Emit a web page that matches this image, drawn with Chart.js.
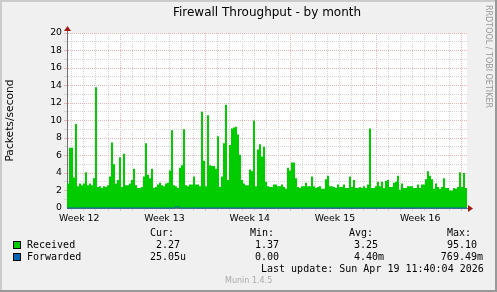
<!DOCTYPE html>
<html>
<head>
<meta charset="utf-8">
<title>Firewall Throughput - by month</title>
<script src="https://cdn.jsdelivr.net/npm/chart.js"></script>
<style>
    body {
        margin: 0;
        background: #f0f0f0;
    }

    #graph {
        position: relative;
        width: 497px;
        height: 292px;
        overflow: hidden;
    }

    #graph canvas {
        position: absolute;
        left: 0;
        top: 0;
    }

    .txt {
        position: absolute;
        white-space: pre;
        font-family: 'DejaVu Sans Mono', monospace;
        color: #000;
    }

    .swatch {
        position: absolute;
        left: 13px;
        width: 8px;
        height: 8px;
        box-sizing: border-box;
        border: 1px solid #000;
    }
</style>
</head>
<body>
<div id="graph">
    <canvas id="throughput" width="497" height="292"></canvas>
</div>

<script>
    // packets/second received, one value per ~4 hours, oldest first
    const received = [
        2.8, 6.9, 6.9, 3.5, 9.6, 2.5, 2.8, 2.6, 2.8, 4.1, 2.6, 2.8, 2.6, 3.4, 13.8, 2.4, 2.5, 2.3, 2.5, 2.4,
        2.6, 3.6, 7.5, 5.0, 2.8, 3.2, 5.8, 2.4, 6.2, 2.6, 2.6, 2.8, 3.2, 4.5, 2.6, 2.3, 2.3, 2.4, 3.6, 7.4,
        3.8, 3.4, 4.5, 2.3, 2.4, 2.7, 2.9, 2.6, 2.5, 2.8, 2.9, 4.3, 8.9, 2.6, 2.5, 2.3, 4.6, 4.9, 9.0, 2.6,
        2.5, 2.7, 2.7, 3.6, 2.7, 2.7, 2.5, 11.0, 5.4, 2.5, 10.6, 4.9, 4.8, 4.8, 4.5, 8.2, 2.4, 3.6, 7.4, 11.8,
        3.2, 7.2, 9.1, 9.2, 9.3, 8.4, 6.1, 3.2, 2.8, 2.6, 2.6, 4.4, 4.2, 10.0, 2.5, 6.7, 7.3, 5.9, 7.0, 3.0,
        2.5, 2.4, 2.4, 2.7, 2.7, 2.5, 2.5, 2.7, 2.4, 2.2, 4.6, 4.3, 5.2, 5.2, 3.4, 2.4, 2.3, 2.5, 2.5, 2.9,
        2.5, 2.5, 3.6, 2.5, 2.3, 2.4, 2.5, 2.2, 2.2, 3.3, 3.7, 2.5, 2.5, 2.4, 2.3, 2.7, 2.4, 2.4, 2.7, 2.3,
        2.3, 3.6, 2.4, 3.2, 2.3, 2.3, 2.4, 2.3, 2.5, 2.3, 2.7, 9.1, 2.3, 2.3, 2.5, 3.0, 2.5, 3.0, 2.3, 3.1,
        3.2, 2.4, 2.4, 2.9, 3.0, 3.7, 2.1, 2.8, 2.3, 2.3, 2.5, 2.5, 2.5, 2.3, 2.3, 2.7, 2.3, 2.7, 2.7, 3.3,
        4.2, 3.7, 3.3, 2.2, 2.8, 2.4, 2.2, 2.4, 3.4, 2.3, 2.3, 2.0, 2.0, 2.3, 2.2, 2.4, 4.1, 2.4, 4.0, 2.3
    ];

    // packets/second forwarded, same sampling
    const forwarded = [
        0, 0, 0, 0, 0, 0, 0, 0, 0, 0, 0, 0, 0, 0, 0, 0, 0, 0, 0, 0,
        0, 0, 0, 0, 0, 0, 0, 0, 0, 0, 0, 0, 0, 0, 0, 0, 0, 0, 0, 0,
        0, 0, 0, 0, 0, 0, 0, 0, 0, 0, 0, 0, 0, 0, 0.12, 0.12, 0, 0, 0, 0,
        0, 0, 0, 0, 0, 0, 0, 0, 0, 0, 0, 0, 0, 0, 0, 0, 0, 0, 0, 0,
        0, 0, 0, 0, 0, 0, 0, 0, 0, 0, 0, 0, 0, 0, 0, 0, 0, 0, 0, 0,
        0, 0, 0, 0, 0, 0, 0, 0, 0, 0, 0, 0, 0, 0, 0, 0, 0, 0, 0, 0,
        0, 0, 0, 0, 0, 0, 0, 0, 0, 0, 0, 0, 0, 0, 0, 0, 0, 0, 0, 0,
        0, 0, 0, 0, 0, 0, 0, 0, 0, 0, 0, 0, 0, 0, 0, 0, 0, 0, 0, 0,
        0, 0, 0, 0, 0, 0, 0, 0, 0, 0, 0, 0, 0, 0, 0, 0, 0, 0, 0, 0,
        0, 0, 0, 0, 0, 0, 0, 0, 0, 0, 0, 0, 0, 0, 0, 0, 0, 0, 0, 0
    ];

    const seriesNames = ['Received', 'Forwarded'];
    const statHeaders = ['Cur:', 'Min:', 'Avg:', 'Max:'];
    const receivedStats = ['2.27', '1.37', '3.25', '95.10'];
    const forwardedStats = ['25.05u', '0.00', '4.40m', '769.49m'];

    const weekLabels = ['Week 12', 'Week 13', 'Week 14', 'Week 15', 'Week 16'];
    const weekLabelDays = [1, 8, 15, 22, 29];   // days from graph start
    const spanDays = 32.85;
    const firstMidnight = 0.38;
    const weekStartOffset = 4;                   // first midnight that starts a week

    const lastUpdate = 'Last update: Sun Apr 19 11:40:04 2026';
    const version = 'Munin 1.4.5';
    const watermark = 'RRDTOOL / TOBI OETIKER';

    const GREEN = '#00cc00';
    const BLUE = '#0066b3';
    const MAJOR = '#edb4b4';
    const MINOR = '#d6d6d6';
    const AXIS = '#707070';

    Chart.defaults.font.family = "'DejaVu Sans', sans-serif";
    Chart.defaults.color = '#000';

    // stepped area: each value holds until the next one
    const step = spanDays / received.length;
    function toPoints(values) {
        const pts = values.map((v, i) => ({x: i * step, y: v}));
        pts.push({x: values.length * step, y: values[values.length - 1]});
        return pts;
    }

    const frame = {
        id: 'frame',
        beforeDraw(chart) {
            const {ctx, width, height, chartArea: a} = chart;
            ctx.save();
            ctx.fillStyle = '#f0f0f0';
            ctx.fillRect(0, 0, width, height);
            ctx.fillStyle = '#ffffff';
            ctx.fillRect(a.left, a.top, a.right - a.left, a.bottom - a.top);
            ctx.fillStyle = '#cbcbcb';
            ctx.fillRect(0, 0, width, 2);
            ctx.fillRect(0, 0, 2, height);
            ctx.fillStyle = '#999999';
            ctx.fillRect(0, height - 2, width, 2);
            ctx.fillRect(width - 2, 0, 2, height);
            ctx.restore();
        },
        afterDraw(chart) {
            const {ctx, chartArea: a} = chart;
            const ax = Math.round(a.left) + 0.5;
            const ay = Math.round(a.bottom) + 0.5;
            ctx.save();
            ctx.strokeStyle = AXIS;
            ctx.lineWidth = 1;
            ctx.beginPath();
            ctx.moveTo(ax, a.top);
            ctx.lineTo(ax, a.top - 4);
            ctx.moveTo(a.right, ay);
            ctx.lineTo(a.right + 4, ay);
            ctx.stroke();
            ctx.fillStyle = '#a01818';
            ctx.beginPath();
            ctx.moveTo(ax - 3.5, a.top - 2);
            ctx.lineTo(ax + 3.5, a.top - 2);
            ctx.lineTo(ax, a.top - 7);
            ctx.closePath();
            ctx.fill();
            ctx.beginPath();
            ctx.moveTo(a.right + 1, ay - 3.5);
            ctx.lineTo(a.right + 1, ay + 3.5);
            ctx.lineTo(a.right + 6, ay);
            ctx.closePath();
            ctx.fill();
            ctx.restore();
        }
    };

    new Chart(document.getElementById('throughput'), {
        type: 'line',
        data: {
            datasets: [{
                label: seriesNames[0],
                data: toPoints(received),
                stepped: true,
                fill: 'origin',
                backgroundColor: GREEN,
                borderWidth: 0,
                pointRadius: 0,
                order: 2
            }, {
                label: seriesNames[1],
                data: toPoints(forwarded),
                stepped: true,
                fill: false,
                borderColor: BLUE,
                borderWidth: 1,
                pointRadius: 0,
                clip: 2,
                order: 1
            }]
        },
        options: {
            responsive: false,
            animation: false,
            events: [],
            layout: {padding: {left: 0, right: 30, top: 0, bottom: 61}},
            plugins: {
                legend: {display: false},
                tooltip: {enabled: false},
                title: {
                    display: true,
                    text: 'Firewall Throughput - by month',
                    fullSize: false,
                    color: '#000',
                    font: {size: 12, weight: 'normal'},
                    padding: {top: 6, bottom: 12.6}
                }
            },
            scales: {
                x: {
                    type: 'linear',
                    min: 0,
                    max: spanDays,
                    afterFit: s => { s.height = 23; },
                    afterBuildTicks: s => {
                        const ticks = [];
                        for (let k = 0; firstMidnight + k < spanDays; k++) {
                            ticks.push({value: firstMidnight + k, major: (k - weekStartOffset) % 7 === 0});
                        }
                        weekLabelDays.forEach((d, i) => ticks.push({value: d, text: weekLabels[i]}));
                        ticks.sort((p, q) => p.value - q.value);
                        s.ticks = ticks;
                    },
                    ticks: {
                        autoSkip: false,
                        maxRotation: 0,
                        padding: 1.5,
                        font: {size: 9.33},
                        callback: (v, i, ticks) => ticks[i].text || ''
                    },
                    grid: {
                        color: c => !c.tick || c.tick.text ? 'rgba(0,0,0,0)' : (c.tick.major ? MAJOR : MINOR),
                        lineWidth: c => c.tick && c.tick.text ? 0 : 1,
                        tickLength: 3
                    },
                    border: {color: AXIS, dash: [1, 1]}
                },
                y: {
                    min: 0,
                    max: 20,
                    afterFit: s => { s.width = 67; },
                    ticks: {
                        stepSize: 1,
                        autoSkip: false,
                        padding: 2,
                        font: {size: 9.33},
                        callback: v => v % 2 === 0 ? String(v) : ''
                    },
                    grid: {
                        color: c => !c.tick || c.tick.value === 0 ? 'rgba(0,0,0,0)' : (c.tick.value % 2 === 0 ? MAJOR : MINOR),
                        tickLength: 3
                    },
                    border: {color: AXIS, dash: [1, 1]},
                    title: {
                        display: true,
                        text: 'Packets/second',
                        color: '#000',
                        font: {size: 10.7},
                        padding: {top: 4, bottom: 0}
                    }
                }
            }
        },
        plugins: [frame]
    });

    // legend block under the graph, like rrdtool prints it
    const graph = document.getElementById('graph');

    function addText(str, o) {
        const el = document.createElement('div');
        const size = o.size || 10;
        el.className = 'txt';
        el.textContent = str;
        el.style.fontSize = size + 'px';
        el.style.lineHeight = size + 'px';
        el.style.top = (o.baseline - 0.846 * size) + 'px';
        if (o.right !== undefined) {
            el.style.right = (497 - o.right) + 'px';
        } else {
            el.style.left = o.left + 'px';
        }
        if (o.family) el.style.fontFamily = o.family;
        if (o.color) el.style.color = o.color;
        graph.appendChild(el);
        return el;
    }

    const headerLeft = [150, 250, 349, 447];
    const columnRight = [186, 285, 384, 483];
    const rowBaseline = [248.3, 260.3];
    const rowSwatchTop = [241, 253];

    statHeaders.forEach((h, i) => addText(h, {left: headerLeft[i], baseline: 236.5}));

    [receivedStats, forwardedStats].forEach((stats, r) => {
        const sw = document.createElement('div');
        sw.className = 'swatch';
        sw.style.top = rowSwatchTop[r] + 'px';
        sw.style.background = r === 0 ? GREEN : BLUE;
        graph.appendChild(sw);

        addText(seriesNames[r], {left: 27, baseline: rowBaseline[r]});
        stats.forEach((s, i) => {
            const padded = /\d$/.test(s) ? s + ' ' : s;
            addText(padded, {right: columnRight[i], baseline: rowBaseline[r]});
        });
    });

    addText(lastUpdate, {left: 261, baseline: 272});
    addText(version, {left: 225, baseline: 283.5, size: 8, family: "'DejaVu Sans', sans-serif", color: '#aaaaaa'});

    const wm = addText(watermark, {left: 0, baseline: 0, size: 8, family: "'DejaVu Sans', sans-serif", color: '#999999'});
    wm.style.top = '0px';
    wm.style.transformOrigin = '0 0';
    wm.style.transform = 'translate(492px, 5px) rotate(90deg)';
</script>
</body>
</html>
